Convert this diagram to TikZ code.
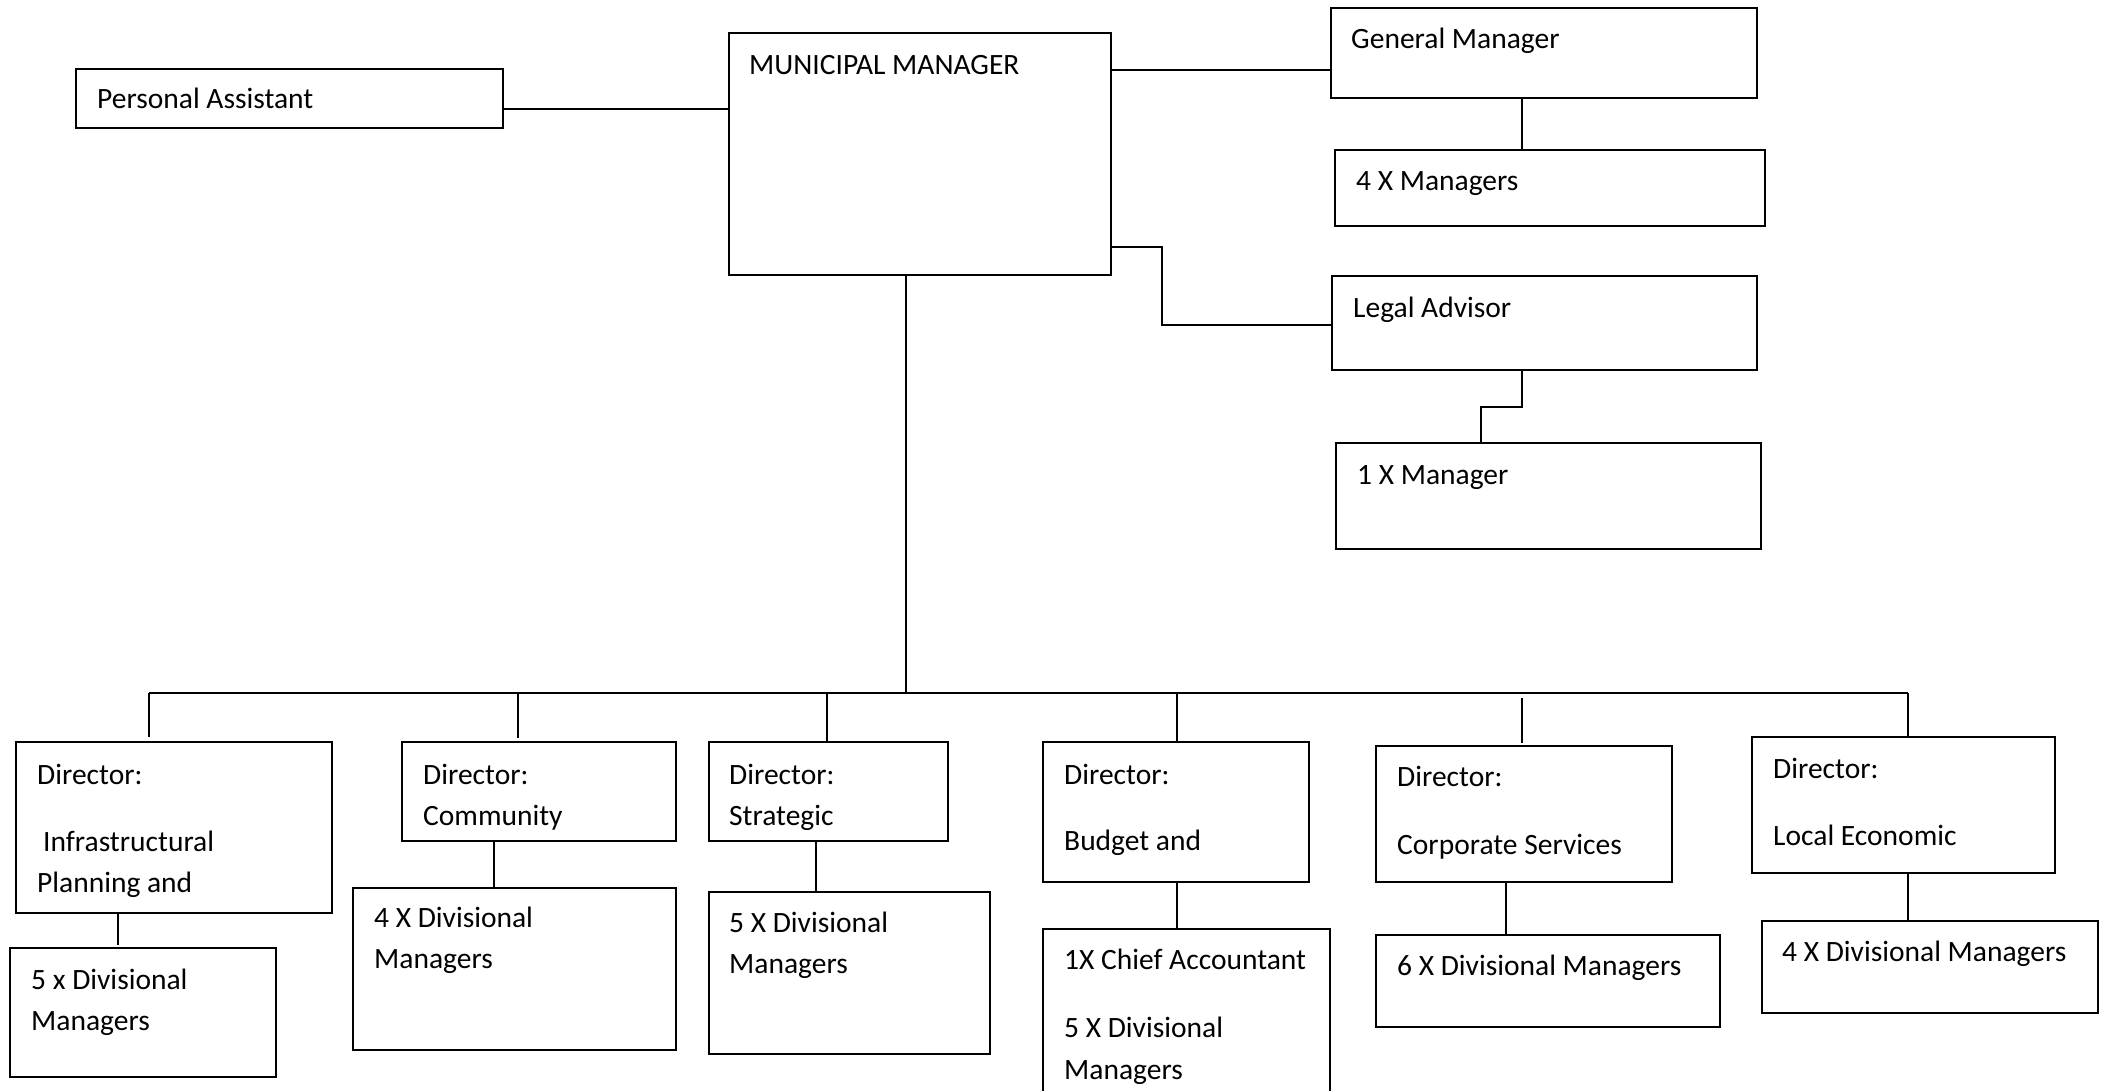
\documentclass[tikz,border=0pt]{standalone}
\usepackage{fontspec}
\setmainfont{Carlito}
% box: name, left, top, right, bottom (pixel-like units, y grows downward)
\newcommand\orgbox[5]{\node[box, minimum width={#4pt-#2pt}, minimum height={#5pt-#3pt}] (#1) at (#2,#3) {};}
% one line of text: name, x, baseline y, text
\newcommand\lbl[4]{\node[txt] (#1) at (#2,#3+2) {#4};}
\begin{document}
\begin{tikzpicture}[x=1pt,y=-1pt,
  box/.style={draw, line width=2.2pt, anchor=north west, inner sep=0pt, outer sep=0pt},
  link/.style={line width=1.4pt},
  txt/.style={anchor=base west, inner sep=0pt, font=\fontsize{29.5}{35}\selectfont}]
\useasboundingbox (0,0) rectangle (2112,1091);
\fill[white] (0,0) rectangle (2112,1091);

% top level
\orgbox{pa}{76}{69}{503}{128}
\orgbox{mm}{729}{33}{1111}{275}
\orgbox{gm}{1331}{8}{1757}{98}
\orgbox{gmsub}{1335}{150}{1765}{226}
\orgbox{la}{1332}{276}{1757}{370}
\orgbox{lasub}{1336}{443}{1761}{549}

% directors
\orgbox{da}{16}{742}{332}{913}
\orgbox{db}{402}{742}{676}{841}
\orgbox{dc}{709}{742}{948}{841}
\orgbox{dd}{1043}{742}{1309}{882}
\orgbox{de}{1376}{746}{1672}{882}
\orgbox{df}{1752}{737}{2055}{873}

% divisional managers
\orgbox{sa}{10}{948}{276}{1077}
\orgbox{sb}{353}{888}{676}{1050}
\orgbox{sc}{709}{892}{990}{1054}
\orgbox{sd}{1043}{929}{1330}{1104}
\orgbox{se}{1376}{935}{1720}{1027}
\orgbox{sf}{1762}{921}{2098}{1013}

% labels
\lbl{tpa}{97}{107}{Personal Assistant}
\lbl{tmm}{749}{73}{MUNICIPAL MANAGER}
\lbl{tgm}{1351}{47}{General Manager}
\lbl{tgmsub}{1356}{189}{4 X Managers}
\lbl{tla}{1353}{315}{Legal Advisor}
\lbl{tlasub}{1357}{482}{1 X Manager}

\lbl{tda1}{37}{782}{Director:}
\lbl{tda2}{43}{849}{Infrastructural}
\lbl{tda3}{37}{890}{Planning and}
\lbl{tsa1}{31}{987}{5 x Divisional}
\lbl{tsa2}{31}{1028}{Managers}

\lbl{tdb1}{423}{782}{Director:}
\lbl{tdb2}{423}{823}{Community}
\lbl{tsb1}{374}{925}{4 X Divisional}
\lbl{tsb2}{374}{966}{Managers}

\lbl{tdc1}{729}{782}{Director:}
\lbl{tdc2}{729}{823}{Strategic}
\lbl{tsc1}{729}{930}{5 X Divisional}
\lbl{tsc2}{729}{971}{Managers}

\lbl{tdd1}{1064}{782}{Director:}
\lbl{tdd2}{1064}{848}{Budget and}
\lbl{tsd1}{1064}{967}{1X Chief Accountant}
\lbl{tsd2}{1064}{1035}{5 X Divisional}
\lbl{tsd3}{1064}{1077}{Managers}

\lbl{tde1}{1397}{784}{Director:}
\lbl{tde2}{1397}{852}{Corporate Services}
\lbl{tse1}{1397}{973}{6 X Divisional Managers}

\lbl{tdf1}{1773}{776}{Director:}
\lbl{tdf2}{1773}{843}{Local Economic}
\lbl{tsf1}{1782}{959}{4 X Divisional Managers}

% connectors at the top
\draw[link] (pa.east |- 0,109) -- (mm.west |- 0,109);
\draw[link] (mm.east |- 0,70) -- (gm.west |- 0,70);
\draw[link] (gm.south -| 1522,0) -- (gmsub.north -| 1522,0);
\draw[link] (mm.east |- 0,247) -- (1162,247) |- (la.west |- 0,325);
\draw[link] (la.south -| 1522,0) |- (1481,407) -- (lasub.north -| 1481,0);

% bus to the directors
\coordinate (busL) at (149,693);
\coordinate (busR) at (1908,693);
\coordinate (busM) at (906,693);
\draw[link] (busL) -- (busR);
\draw[link] (mm.south -| busM) -- (busM);
\draw[link, shorten >=5pt] (busL) -- (da.north -| busL);
\draw[link, shorten >=4pt] (busL -| 518,0) -- (db.north -| 518,0);
\draw[link] (busL -| 827,0) -- (dc.north -| 827,0);
\draw[link] (busL -| 1177,0) -- (dd.north -| 1177,0);
\draw[link, shorten <=5pt, shorten >=3pt] (busL -| 1522,0) -- (de.north -| 1522,0);
\draw[link] (busR) -- (df.north -| busR);

% directors to their divisional managers
\draw[link, shorten >=3pt] (da.south -| 118,0) -- (sa.north -| 118,0);
\draw[link] (db.south -| 494,0) -- (sb.north -| 494,0);
\draw[link] (dc.south -| 816,0) -- (sc.north -| 816,0);
\draw[link] (dd.south -| 1177,0) -- (sd.north -| 1177,0);
\draw[link] (de.south -| 1506,0) -- (se.north -| 1506,0);
\draw[link] (df.south -| 1908,0) -- (sf.north -| 1908,0);
\end{tikzpicture}
\end{document}
